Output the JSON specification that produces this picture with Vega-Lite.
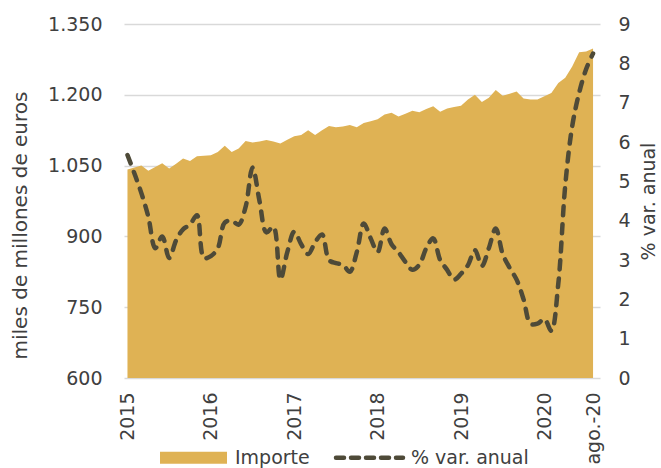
{
  "$schema": "https://vega.github.io/schema/vega-lite/v6.json",
  "width": 476,
  "height": 354,
  "autosize": {"type": "none"},
  "padding": {"left": 124, "top": 24, "right": 61, "bottom": 90},
  "config": {
    "view": {"stroke": null},
    "font": "DejaVu Sans",
    "axis": {"labelColor": "#404040", "titleColor": "#404040", "labelFont": "DejaVu Sans", "titleFont": "DejaVu Sans", "labelFontSize": 19, "titleFontSize": 19, "titleFontWeight": "normal"}
  },
  "data": {"values": [
    {"n": 0, "importe": 1042, "var": 5.67},
    {"n": 1, "importe": 1046, "var": 5.2},
    {"n": 2, "importe": 1050, "var": 4.7},
    {"n": 3, "importe": 1039, "var": 4.1},
    {"n": 4, "importe": 1047, "var": 3.3},
    {"n": 5, "importe": 1055, "var": 3.6},
    {"n": 6, "importe": 1044, "var": 3.05},
    {"n": 7, "importe": 1054, "var": 3.5},
    {"n": 8, "importe": 1065, "var": 3.78},
    {"n": 9, "importe": 1060, "var": 3.9},
    {"n": 10, "importe": 1070, "var": 4.14},
    {"n": 11, "importe": 1071, "var": 3.05},
    {"n": 12, "importe": 1072, "var": 3.1},
    {"n": 13, "importe": 1079, "var": 3.3},
    {"n": 14, "importe": 1092, "var": 3.95},
    {"n": 15, "importe": 1079, "var": 4.0},
    {"n": 16, "importe": 1086, "var": 3.9},
    {"n": 17, "importe": 1102, "var": 4.35},
    {"n": 18, "importe": 1099, "var": 5.35},
    {"n": 19, "importe": 1101, "var": 4.5},
    {"n": 20, "importe": 1104, "var": 3.7},
    {"n": 21, "importe": 1101, "var": 3.85},
    {"n": 22, "importe": 1097, "var": 2.5},
    {"n": 23, "importe": 1105, "var": 3.2},
    {"n": 24, "importe": 1112, "var": 3.72},
    {"n": 25, "importe": 1115, "var": 3.4},
    {"n": 26, "importe": 1125, "var": 3.15},
    {"n": 27, "importe": 1115, "var": 3.45},
    {"n": 28, "importe": 1125, "var": 3.65},
    {"n": 29, "importe": 1134, "var": 3.0},
    {"n": 30, "importe": 1131, "var": 2.92},
    {"n": 31, "importe": 1133, "var": 2.88},
    {"n": 32, "importe": 1136, "var": 2.7},
    {"n": 33, "importe": 1131, "var": 3.2},
    {"n": 34, "importe": 1140, "var": 3.93},
    {"n": 35, "importe": 1144, "var": 3.55},
    {"n": 36, "importe": 1148, "var": 3.2},
    {"n": 37, "importe": 1158, "var": 3.8},
    {"n": 38, "importe": 1162, "var": 3.4},
    {"n": 39, "importe": 1154, "var": 3.2},
    {"n": 40, "importe": 1160, "var": 2.95},
    {"n": 41, "importe": 1166, "var": 2.75},
    {"n": 42, "importe": 1163, "var": 2.88},
    {"n": 43, "importe": 1170, "var": 3.3},
    {"n": 44, "importe": 1176, "var": 3.55},
    {"n": 45, "importe": 1164, "var": 3.0},
    {"n": 46, "importe": 1171, "var": 2.75},
    {"n": 47, "importe": 1174, "var": 2.5},
    {"n": 48, "importe": 1177, "var": 2.65},
    {"n": 49, "importe": 1190, "var": 2.87},
    {"n": 50, "importe": 1200, "var": 3.25},
    {"n": 51, "importe": 1185, "var": 2.85},
    {"n": 52, "importe": 1194, "var": 3.3},
    {"n": 53, "importe": 1210, "var": 3.8},
    {"n": 54, "importe": 1198, "var": 3.15},
    {"n": 55, "importe": 1202, "var": 2.8},
    {"n": 56, "importe": 1207, "var": 2.5},
    {"n": 57, "importe": 1192, "var": 2.0},
    {"n": 58, "importe": 1190, "var": 1.38},
    {"n": 59, "importe": 1190, "var": 1.38},
    {"n": 60, "importe": 1197, "var": 1.5},
    {"n": 61, "importe": 1204, "var": 1.2},
    {"n": 62, "importe": 1225, "var": 2.4},
    {"n": 63, "importe": 1236, "var": 4.9},
    {"n": 64, "importe": 1260, "var": 6.4},
    {"n": 65, "importe": 1290, "var": 7.25},
    {"n": 66, "importe": 1292, "var": 7.85},
    {"n": 67, "importe": 1298, "var": 8.25}
  ]},
  "encoding": {
    "x": {
      "field": "n", "type": "quantitative",
      "scale": {"domain": [-0.5, 68], "nice": false, "zero": false},
      "axis": {"title": null, "values": [0, 12, 24, 36, 48, 60, 67], "labelExpr": "datum.value == 67 ? 'ago.-20' : '' + (2015 + datum.value / 12)", "labelAngle": -90, "labelPadding": 14, "ticks": false, "domain": false, "grid": false, "labelOverlap": false, "labelFlush": false}
    }
  },
  "layer": [
    {
      "mark": {"type": "area", "interpolate": "linear"},
      "encoding": {
        "y": {"field": "importe", "type": "quantitative", "scale": {"domain": [600, 1350], "nice": false, "zero": false},
          "axis": {"title": "miles de millones de euros", "values": [600, 750, 900, 1050, 1200, 1350], "labelExpr": "replace(format(datum.value, ','), ',', '.')", "ticks": false, "domain": false, "grid": true, "gridColor": "#d9d9d9", "gridWidth": 1.5, "labelPadding": 22, "titlePadding": 17, "titleY": 201, "titleFontSize": 20}},
        "y2": {"datum": 600},
        "color": {"datum": "Importe", "type": "nominal",
          "scale": {"domain": ["Importe", "% var. anual"], "range": ["#DFB254", "#4E4A38"]},
          "legend": {"orient": "none", "legendX": 60, "legendY": 424, "direction": "horizontal", "title": null, "symbolSize": 100, "labelFontSize": 19, "labelColor": "#404040", "labelFont": "DejaVu Sans", "labelOffset": 32, "columnPadding": 17,
            "encode": {"symbols": {"update": {
              "shape": {"signal": "datum.value === 'Importe' ? 'M-6.7,-1.2H6.7V1.2H-6.7Z' : 'M-6.7,0H6.7'"},
              "fill": {"signal": "datum.value === 'Importe' ? '#DFB254' : 'transparent'"},
              "stroke": {"signal": "datum.value === 'Importe' ? 'transparent' : '#4E4A38'"},
              "strokeDash": {"signal": "datum.value === 'Importe' ? [1, 0] : [8, 7]"},
              "strokeWidth": {"signal": "datum.value === 'Importe' ? 0 : 4.5"},
              "strokeCap": {"value": "round"},
              "opacity": {"value": 1}
            }}}}
        }
      }
    },
    {
      "mark": {"type": "line", "interpolate": "catmull-rom", "strokeWidth": 4.5, "strokeDash": [9, 9], "strokeCap": "round"},
      "encoding": {
        "y": {"field": "var", "type": "quantitative", "scale": {"domain": [0, 9], "nice": false},
          "axis": {"orient": "right", "title": "% var. anual", "values": [0, 1, 2, 3, 4, 5, 6, 7, 8, 9], "ticks": false, "domain": false, "grid": false, "labelPadding": 18, "titlePadding": 9, "titleAngle": 270, "titleBaseline": "top", "titleFontSize": 19}},
        "color": {"datum": "% var. anual", "type": "nominal"}
      }
    }
  ],
  "resolve": {"scale": {"y": "independent"}}
}
